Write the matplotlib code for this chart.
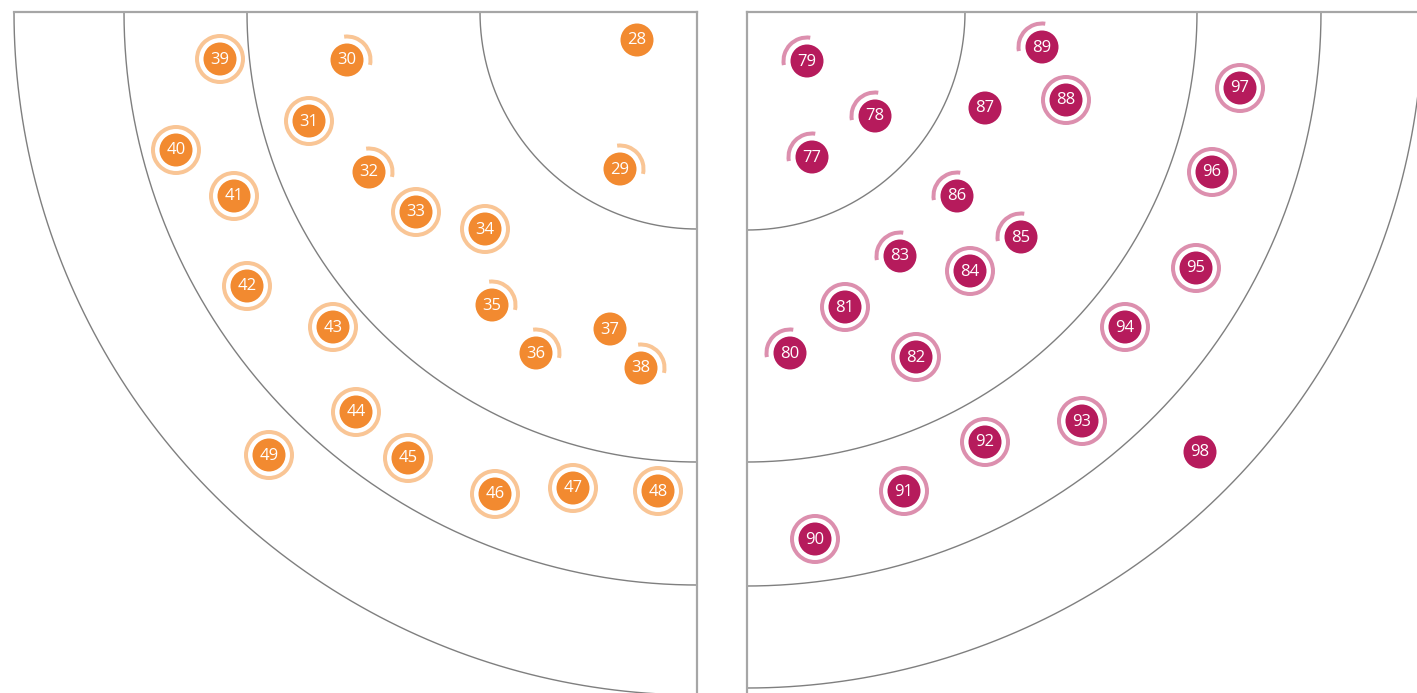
import numpy as np
from matplotlib import pyplot as plt
from matplotlib.patches import Circle, Wedge
import matplotlib

matplotlib.rcParams["font.family"] = ["Open Sans", "DejaVu Sans"]

# left panel (orange)
left_labels = [28, 29, 30, 31, 32, 33, 34, 35, 36, 37, 38,
               39, 40, 41, 42, 43, 44, 45, 46, 47, 48, 49]
left_x = [637, 620, 347, 309, 369, 416, 485, 492, 536, 610, 641,
          220, 176, 234, 247, 333, 356, 408, 495, 573, 658, 269]
left_y = [40, 169, 60, 121, 172, 212, 229, 305, 353, 329, 368,
          59, 150, 196, 286, 327, 412, 458, 494, 488, 491, 455]
left_ring = ["none", "part", "part", "full", "part", "full", "full", "part", "part", "none", "part",
             "full", "full", "full", "full", "full", "full", "full", "full", "full", "full", "full"]

# right panel (magenta)
right_labels = [77, 78, 79, 80, 81, 82, 83, 84, 85, 86, 87,
                88, 89, 90, 91, 92, 93, 94, 95, 96, 97, 98]
right_x = [812, 875, 807, 790, 845, 916, 900, 970, 1021, 957, 985,
           1066, 1042, 815, 904, 985, 1082, 1125, 1196, 1212, 1240, 1200]
right_y = [157, 116, 61, 353, 307, 357, 256, 271, 237, 196, 108,
           100, 47, 539, 491, 442, 421, 327, 268, 172, 88, 452]
right_ring = ["part", "part", "part", "part", "full", "full", "part", "full", "part", "part", "none",
              "full", "part", "full", "full", "full", "full", "full", "full", "full", "full", "none"]

W, H = 1417, 693
fig = plt.figure(figsize=(W / 100, H / 100), dpi=100)
ax = fig.add_axes([0, 0, 1, 1])
ax.set_xlim(0, W)
ax.set_ylim(H, 0)
ax.set_aspect("equal")
ax.axis("off")

frame_col = "#a6a6a6"
arc_col = "#7f7f7f"


def draw_panel(cx, side, radii):
    cy = 12
    t = np.linspace(0, np.pi / 2, 300)
    for r in radii:
        ax.plot(cx + side * r * np.cos(t), cy + r * np.sin(t), color=arc_col, lw=1.0, zorder=1)
    if side < 0:
        ax.plot([cx - radii[-1], cx], [cy, cy], color=frame_col, lw=1.6, zorder=2)
    else:
        ax.plot([cx, W], [cy, cy], color=frame_col, lw=1.6, zorder=2)
    ax.plot([cx, cx], [cy, H + 5], color=frame_col, lw=1.6, zorder=2)


draw_panel(697, -1, [217, 450, 573, 683])
draw_panel(747, 1, [218, 450, 574, 676])


def draw_nodes(labels, xs, ys, rings, col, ring_col, part_angles):
    for lab, x, y, rk in zip(labels, xs, ys, rings):
        if rk == "full":
            ax.add_patch(Wedge((x, y), 25, 0, 360, width=4, color=ring_col, lw=0, zorder=3))
        elif rk == "part":
            ax.add_patch(Wedge((x, y), 25.5, part_angles[0], part_angles[1], width=4,
                               color=ring_col, lw=0, zorder=3))
        ax.add_patch(Circle((x, y), 16.5, color=col, lw=0, zorder=4))
        ax.text(x, y + 0.5, str(lab), color="white", fontsize=12, ha="center",
                va="center", zorder=5)


# y axis is flipped, so data angles are mirrored from screen angles
draw_nodes(left_labels, left_x, left_y, left_ring, "#f28a30", "#f9c595", (-97, 12))
draw_nodes(right_labels, right_x, right_y, right_ring, "#b61b5c", "#dc8fae", (-190, -82))

plt.savefig("out.png", dpi=100)
plt.close()
